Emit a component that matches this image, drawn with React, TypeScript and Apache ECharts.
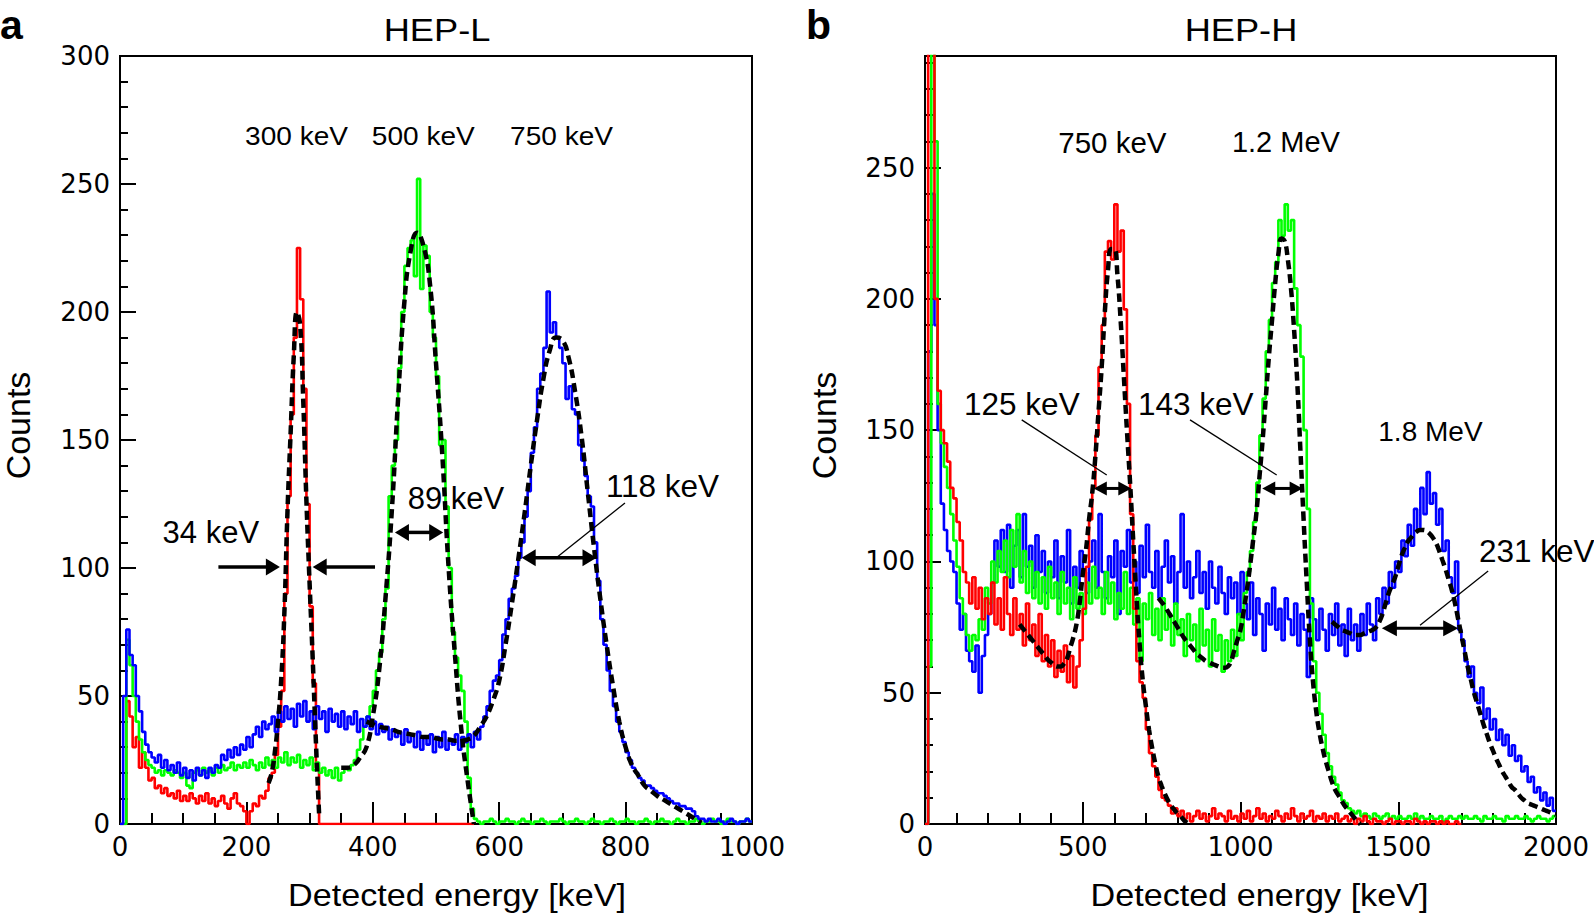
import React, { useEffect, useRef } from "react";
import * as echarts from "echarts";

const FONT = "'Liberation Sans', Arial, Helvetica, sans-serif";
const TICK_FONT = "'DejaVu Sans', 'Liberation Sans', Arial, sans-serif";
const RED = "#ff0000";
const GREEN = "#00ff00";
const BLUE = "#0000ff";

// ---------- Panel a (HEP-L): 5 keV bins starting at 0 keV ----------
const BIN_A = 5;
const redA = [
  0, 0, 48, 42, 30, 34, 22, 28, 22, 17, 18, 14, 15, 12, 14, 11, 12, 10, 13, 9,
  11, 9, 12, 10, 8, 11, 9, 12, 8, 10, 7, 9, 11, 8, 6, 10, 12, 8, 7, 5,
  0, 5, 8, 7, 11, 10, 13, 18, 20, 27, 38, 52, 90, 128, 160, 190, 225, 205, 170, 125,
  85, 55, 22, 0, 0, 0, 0, 0, 0, 0, 0, 0, 0, 0, 0, 0, 0, 0, 0, 0,
  0, 0, 0, 0, 0, 0, 0, 0, 0, 0, 0, 0, 0, 0, 0, 0, 0, 0, 0, 0,
  0, 0, 0, 0, 0, 0, 0, 0, 0, 0, 0, 0,
];
const greenA = [
  0, 0, 72, 62, 50, 40, 33, 28, 25, 23, 22, 20, 21, 19, 21, 20, 19, 21, 20, 18,
  20, 15, 14, 20, 21, 19, 22, 20, 21, 19, 22, 20, 23, 21, 22, 24, 21, 23, 22, 24,
  22, 25, 23, 21, 24, 22, 26, 23, 25, 22, 26, 24, 28, 23, 26, 24, 27, 22, 25, 23,
  26, 21, 24, 20, 22, 19, 21, 18, 22, 17, 20, 22, 21, 23, 25, 29, 33, 38, 42, 46,
  52, 60, 67, 80, 92, 128, 140, 150, 178, 200, 218, 225, 228, 214, 252, 209, 226, 222, 200, 190,
  175, 148, 150, 124, 100, 75, 65, 58, 52, 40, 18, 6, 2, 1, 0, 1, 1, 2, 1, 0,
  1, 1, 2, 1, 1, 0, 1, 2, 1, 1, 0, 1, 1, 2, 1, 0, 1, 1, 1, 2,
  1, 0, 1, 1, 2, 1, 1, 0, 1, 2, 1, 1, 0, 1, 1, 2, 1, 0, 1, 1,
  2, 1, 1, 0, 1, 1, 2, 1, 0, 1, 1, 2, 1, 1, 0, 1, 2, 1, 1, 0,
  1, 1, 2, 1, 0, 1, 1, 2, 1, 1, 0, 1, 2, 1, 1, 0, 1, 1, 2, 1,
];
const blueA = [
  0, 50, 76, 66, 62, 50, 44, 36, 31, 28, 26, 24, 27, 22, 25, 21, 23, 20, 24, 19,
  22, 18, 21, 17, 22, 19, 21, 18, 22, 20, 23, 22, 27, 25, 29, 26, 30, 27, 31, 29,
  34, 30, 35, 38, 34, 40, 37, 39, 42, 36, 44, 40, 46, 41, 45, 38, 47, 42, 48, 40,
  44, 37, 46, 41, 44, 36, 45, 40, 43, 38, 44, 37, 42, 39, 44, 36, 41, 38, 42, 37,
  40, 35, 39, 36, 38, 33, 37, 34, 36, 31, 37, 32, 35, 30, 36, 29, 34, 31, 35, 28,
  34, 30, 36, 29, 33, 31, 35, 29, 34, 32, 35, 30, 36, 33, 38, 42, 46, 52, 56, 58,
  64, 74, 80, 88, 92, 97, 104, 110, 120, 130, 145, 155, 170, 176, 186, 208, 192, 196, 190, 186,
  180, 166, 171, 162, 160, 148, 142, 136, 128, 124, 110, 95, 80, 70, 60, 52, 46, 40, 36, 32,
  28, 25, 22, 20, 18, 17, 15, 15, 14, 13, 12, 12, 11, 10, 9, 8, 8, 7, 7, 6,
  6, 5, 3, 2, 2, 1, 2, 1, 1, 2, 1, 0, 1, 2, 1, 0, 1, 1, 2, 1,
];
// fitted curves (panel a)
const fitRedAStart = 235, fitRedAStep = 5;
const fitRedA = [16, 20, 28, 40, 56, 82, 122, 153, 183, 200, 195, 165, 126, 94, 64, 32, 4];
const fitGreenAStart = 350, fitGreenAStep = 10;
const fitGreenA = [22, 22, 23, 26, 30, 42, 60, 88, 122, 166, 204, 224, 231, 226, 212, 180, 144, 100, 66, 37, 17, 0];
const fitBlueAStart = 390, fitBlueAStep = 10;
const fitBlueA = [
  40, 39, 38, 37.5, 37, 36, 35.5, 35, 34.5, 34, 34, 33.5, 33, 33, 32.5, 32.5, 33, 34.5, 38, 42,
  48, 56, 70, 86, 103, 121, 140, 158, 174, 185, 190, 189, 182, 169, 152, 130, 108, 88, 70, 54,
  40, 30, 23, 19, 15, 13, 11, 9.5, 8, 6.5, 5, 3.5, 2, 0.5,
];

// ---------- Panel b (HEP-H): 10 keV bins starting at 0 keV ----------
const BIN_B = 10;
const redB = [
  0, 300, 320, 200, 165, 150, 145, 138, 128, 124,
  115, 108, 96, 92, 84, 94, 82, 90, 78, 86,
  80, 92, 76, 86, 74, 94, 80, 72, 86, 74,
  80, 68, 84, 70, 76, 64, 80, 62, 72, 60,
  70, 56, 66, 58, 68, 54, 64, 52, 60, 70,
  82, 98, 116, 128, 148, 174, 190, 218, 222, 215,
  236, 218, 226, 196, 160, 118, 82, 62, 54, 48,
  36, 27, 22, 18, 13, 10, 9, 7, 4, 6,
  3, 5, 2, 4, 1, 3, 5, 2, 4, 1,
  3, 6, 2, 4, 3, 1, 5, 2, 3, 1,
  4, 2, 5, 1, 3, 6, 2, 4, 1, 3,
  2, 5, 3, 1, 4, 2, 6, 3, 1, 4,
  2, 3, 5, 1, 3, 2, 4, 1, 3, 2,
  4, 1, 2, 3, 1, 2, 0, 2, 1, 3,
  1, 0, 2, 1, 1, 0, 1, 2, 0, 1,
  1, 0, 1, 1, 0, 2, 1, 0, 1, 0,
  1, 1, 0, 1, 0, 1, 0, 0, 1, 0,
];
const greenB = [
  0, 60, 330, 260, 160, 145, 136, 128, 118, 108,
  98, 86, 80, 72, 66, 72, 70, 78, 74, 90,
  84, 100, 92, 104, 96, 108, 94, 112, 98, 118,
  92, 104, 88, 100, 86, 96, 84, 94, 82, 98,
  86, 92, 80, 96, 84, 90, 78, 94, 82, 88,
  80, 92, 84, 98, 86, 90, 80, 96, 84, 92,
  78, 88, 82, 96, 80, 90, 76, 86, 62, 84,
  78, 88, 72, 82, 70, 86, 74, 80, 68, 84,
  72, 78, 64, 80, 70, 76, 62, 82, 68, 74,
  60, 78, 66, 72, 58, 70, 62, 74, 64, 80,
  70, 88, 96, 104, 115, 130, 148, 162, 180, 192,
  206, 214, 230, 224, 236, 226, 230, 204, 190, 178,
  150, 120, 84, 62, 50, 42, 34, 27, 22, 18,
  15, 12, 9, 8, 6, 5, 4, 5, 3, 4,
  3, 2, 4, 3, 2, 3, 4, 2, 3, 2,
  3, 2, 2, 3, 2, 4, 2, 3, 2, 2,
  3, 2, 2, 3, 1, 2, 3, 2, 2, 3,
  2, 3, 2, 2, 3, 2, 1, 3, 2, 2,
  3, 2, 2, 1, 3, 2, 2, 3, 2, 2,
  3, 2, 1, 2, 3, 2, 2, 1, 2, 3,
];
const blueB = [
  0, 180, 240, 190, 150, 122, 112, 104, 100, 96,
  84, 74, 80, 66, 62, 58, 68, 50, 64, 72,
  80, 92, 108, 98, 112, 96, 114, 90, 106, 112,
  94, 118, 98, 106, 90, 110, 96, 104, 88, 100,
  94, 108, 86, 102, 92, 112, 84, 98, 90, 104,
  96, 88, 100, 108, 90, 118, 96, 86, 102, 94,
  108, 80, 104, 98, 112, 92, 100, 88, 106, 94,
  114, 96, 90, 104, 86, 98, 108, 92, 102, 84,
  96, 118, 90, 100, 86, 94, 104, 88, 96, 82,
  100, 90, 84, 98, 88, 80, 94, 86, 92, 80,
  96, 84, 78, 92, 72, 86, 80, 66, 84, 76,
  90, 74, 82, 70, 86, 78, 72, 84, 68, 80,
  74, 56, 86, 78, 70, 82, 74, 66, 80, 72,
  84, 68, 76, 64, 82, 70, 76, 66, 80, 72,
  84, 76, 70, 86, 80, 90, 84, 96, 90, 100,
  96, 108, 102, 114, 106, 120, 112, 128, 118, 134,
  122, 126, 114, 120, 104, 108, 94, 88, 100, 74,
  70, 62, 56, 60, 50, 46, 52, 40, 44, 36,
  40, 32, 36, 30, 34, 26, 30, 24, 26, 20,
  22, 16, 18, 12, 14, 9, 12, 7, 10, 5,
];
// fitted curves (panel b)
const fitRedBStart = 300, fitRedBStep = 10;
const fitRedB = [
  76, 74.5, 73, 71.5, 70, 68.5, 67, 65.5, 64, 62.5,
  61.5, 60.5, 60, 60, 61, 63, 67, 71, 76, 84,
  95, 104, 116, 126, 140, 157, 174, 195, 211, 219,
  219, 209, 192, 171, 150, 130, 108, 87, 69, 55,
  45, 36, 29, 23, 18, 14.5, 11.5, 9, 7, 5.5,
  4, 3, 1.5, 0.5, 0,
];
const fitGreenBStart = 740, fitGreenBStep = 10;
const fitGreenB = [
  86, 84.5, 83, 81, 79, 77,
  75, 73, 71, 69.5, 68, 66.5, 65, 64, 63, 62,
  61.5, 61, 60.5, 60, 59.5, 59.5, 60, 62, 66, 70,
  74, 81, 89, 98, 108, 118, 132, 146, 162, 178,
  192, 206, 217, 223, 222, 215, 204, 188, 168, 142,
  116, 92, 70, 54, 43, 35, 29, 24, 20, 16,
  13, 11, 9, 7, 5.5, 4, 2.5, 1, 0,
];
const fitBlueBStart = 1290, fitBlueBStep = 10;
const fitBlueB = [
  77,
  76, 75, 74, 73.5, 73, 72.5, 72, 72, 72, 72.5,
  73, 73.5, 74, 75, 77, 80, 84, 88, 91, 94,
  98, 102, 105, 107.5, 109, 110.5, 111.5, 112, 112, 111.5,
  110.5, 109, 107, 104, 100.5, 97, 93, 89, 84, 78,
  72, 66, 60, 55, 50, 46, 42, 38, 34.5, 31,
  28, 25, 22.5, 20, 18, 16, 14, 13, 11.5, 10,
  9, 8, 7.5, 7, 6.5, 6, 5.5, 5, 4.5, 4,
  3.5,
];

// ---------- Annotations (data coordinates) ----------
type Arrow = { from: [number, number]; to: [number, number]; both: boolean };
const arrowsA: Arrow[] = [
  { from: [155.7, 100.4], to: [253, 100.4], both: false },
  { from: [403.5, 100.4], to: [304.9, 100.4], both: false },
  { from: [435, 113.9], to: [511.4, 113.9], both: true },
  { from: [635.6, 104], to: [754, 104], both: true },
];
const leadersA: [number, number][][] = [[[799, 125.4], [689.9, 103.9]]];
const labelsA = [
  { text: "300 keV", at: [279.3, 268.4], size: 25.5, sx: 1.1 },
  { text: "500 keV", at: [479.9, 268.4], size: 25.5, sx: 1.1 },
  { text: "750 keV", at: [698.7, 268.4], size: 25.5, sx: 1.1 },
  { text: "34 keV", at: [143.7, 114], size: 31, sx: 1 },
  { text: "89 keV", at: [531.6, 127], size: 31, sx: 1 },
  { text: "118 keV", at: [858.4, 132.2], size: 31.5, sx: 1 },
];
const arrowsB: Arrow[] = [
  { from: [535, 127.8], to: [654, 127.8], both: true },
  { from: [1069, 127.8], to: [1197, 127.8], both: true },
  { from: [1448, 74.6], to: [1690, 74.6], both: true },
];
const leadersB: [number, number][][] = [
  [[306.5, 153.9], [576, 132.9]],
  [[840, 153.9], [1114.7, 132.9]],
  [[1785, 96.4], [1569, 75.7]],
];
const labelsB = [
  { text: "750 keV", at: [594, 259.6], size: 29.5, align: "center" },
  { text: "1.2 MeV", at: [1144, 259.6], size: 29, align: "center" },
  { text: "1.8 MeV", at: [1602, 149.3], size: 28, align: "center" },
  { text: "125 keV", at: [307, 160], size: 31.5, align: "center" },
  { text: "143 keV", at: [858, 160], size: 31.5, align: "center" },
  { text: "231 keV", at: [1756, 103.8], size: 31.5, align: "left" },
];

function hist(values: number[], bin: number) {
  const pts = values.map((v, i) => [i * bin, v]);
  pts.push([values.length * bin, values[values.length - 1]]);
  return pts;
}
function curve(start: number, step: number, values: number[]) {
  return values.map((v, i) => [start + i * step, v]);
}

function histSeries(data: number[][], color: string, gi: number) {
  return {
    type: "line",
    xAxisIndex: gi,
    yAxisIndex: gi,
    data,
    step: "end",
    symbol: "none",
    showSymbol: false,
    silent: true,
    clip: true,
    lineStyle: { color, width: 2.6 },
    itemStyle: { color },
    emphasis: { disabled: true },
    z: 2,
  };
}
function fitSeries(data: number[][], gi: number) {
  return {
    type: "line",
    xAxisIndex: gi,
    yAxisIndex: gi,
    data,
    smooth: 0.5,
    symbol: "none",
    showSymbol: false,
    silent: true,
    clip: true,
    lineStyle: { color: "#000", width: 4.5, type: [9, 5] },
    itemStyle: { color: "#000" },
    emphasis: { disabled: true },
    z: 3,
  };
}

const tickStyle = { color: "#000", width: 2 };
const plain = (v: number) => String(v);
function xAxis(gi: number, max: number, interval: number, minorSplit: number) {
  return {
    gridIndex: gi,
    type: "value",
    min: 0,
    max,
    interval,
    axisLine: { show: true, onZero: false, lineStyle: { color: "#000", width: 2 } },
    axisTick: { show: true, inside: true, length: 22, lineStyle: tickStyle },
    minorTick: { show: true, splitNumber: minorSplit, length: 11, lineStyle: tickStyle },
    axisLabel: { color: "#000", fontSize: 26, fontFamily: TICK_FONT, margin: 10, formatter: plain },
    splitLine: { show: false },
    minorSplitLine: { show: false },
  };
}
function yAxis(gi: number, max: number, minor: boolean) {
  return {
    gridIndex: gi,
    type: "value",
    position: "left",
    min: 0,
    max,
    interval: 50,
    axisLine: { show: true, onZero: false, lineStyle: { color: "#000", width: 2 } },
    axisTick: { show: true, inside: true, length: 16, lineStyle: tickStyle },
    minorTick: { show: minor, splitNumber: 5, length: 8, lineStyle: tickStyle },
    axisLabel: {
      color: "#000",
      fontSize: 26,
      fontFamily: TICK_FONT,
      margin: 10,
      showMaxLabel: minor,
      formatter: (v: number) => (v % 50 === 0 ? String(v) : ""),
    },
    splitLine: { show: false },
    minorSplitLine: { show: false },
  };
}

const Y_MAX_B = 292.5;

function buildOption() {
  return {
    animation: false,
    backgroundColor: "#ffffff",
    grid: [
      { left: 120, top: 56, width: 632, height: 768, show: true, borderColor: "#000", borderWidth: 2, backgroundColor: "transparent" },
      { left: 925, top: 56, width: 631, height: 768, show: true, borderColor: "#000", borderWidth: 2, backgroundColor: "transparent" },
    ],
    xAxis: [xAxis(0, 1000, 200, 4), xAxis(1, 2000, 500, 5)],
    yAxis: [
      yAxis(0, 300, true),
      yAxis(1, Y_MAX_B, false),
      {
        gridIndex: 1,
        type: "value",
        position: "left",
        min: 0,
        max: Y_MAX_B,
        interval: 10,
        axisLine: { show: false },
        axisTick: { show: true, inside: true, length: 8, lineStyle: tickStyle },
        axisLabel: { show: false },
        splitLine: { show: false },
      },
    ],
    series: [
      histSeries(hist(redA, BIN_A), RED, 0),
      histSeries(hist(greenA, BIN_A), GREEN, 0),
      histSeries(hist(blueA, BIN_A), BLUE, 0),
      fitSeries(curve(fitRedAStart, fitRedAStep, fitRedA), 0),
      fitSeries(curve(fitGreenAStart, fitGreenAStep, fitGreenA), 0),
      fitSeries(curve(fitBlueAStart, fitBlueAStep, fitBlueA), 0),
      histSeries(hist(blueB, BIN_B), BLUE, 1),
      histSeries(hist(greenB, BIN_B), GREEN, 1),
      histSeries(hist(redB, BIN_B), RED, 1),
      fitSeries(curve(fitRedBStart, fitRedBStep, fitRedB), 1),
      fitSeries(curve(fitGreenBStart, fitGreenBStep, fitGreenB), 1),
      fitSeries(curve(fitBlueBStart, fitBlueBStep, fitBlueB), 1),
    ],
  };
}

function textEl(t: string, x: number, y: number, size: number, opts: any = {}) {
  const align = opts.align || "center";
  return {
    type: "text",
    x,
    y,
    rotation: opts.rotation || 0,
    scaleX: opts.scaleX || 1,
    z: 100,
    silent: true,
    style: {
      text: t,
      fill: "#000",
      fontSize: size,
      fontFamily: FONT,
      fontWeight: opts.bold ? "bold" : "normal",
      align,
      verticalAlign: "middle",
      textAlign: align,
      textVerticalAlign: "middle",
    },
  };
}

function arrowEls(p0: number[], p1: number[], both: boolean, L: number, W: number, lw: number) {
  const dx = p1[0] - p0[0];
  const dy = p1[1] - p0[1];
  const len = Math.hypot(dx, dy) || 1;
  const ux = dx / len, uy = dy / len;
  const nx = -uy, ny = ux;
  const head = (tip: number[], sx: number, sy: number) => {
    const bx = tip[0] - sx * L, by = tip[1] - sy * L;
    return {
      type: "polygon",
      z: 100,
      silent: true,
      shape: { points: [[tip[0], tip[1]], [bx + nx * W, by + ny * W], [bx - nx * W, by - ny * W]] },
      style: { fill: "#000", stroke: "none" },
    };
  };
  const start = both ? [p0[0] + ux * L * 0.7, p0[1] + uy * L * 0.7] : p0;
  const end = [p1[0] - ux * L * 0.7, p1[1] - uy * L * 0.7];
  const els: any[] = [
    {
      type: "line",
      z: 100,
      silent: true,
      shape: { x1: start[0], y1: start[1], x2: end[0], y2: end[1] },
      style: { stroke: "#000", lineWidth: lw },
    },
    head(p1, ux, uy),
  ];
  if (both) els.push(head(p0, -ux, -uy));
  return els;
}

function buildGraphics(chart: any) {
  const px = (gi: number, p: number[]) =>
    chart.convertToPixel(gi === 0 ? { xAxisIndex: 0, yAxisIndex: 0 } : { xAxisIndex: 1, yAxisIndex: 1 }, p) as number[];
  const els: any[] = [];
  // panel letters and titles
  els.push(textEl("a", 0, 24.5, 41, { bold: true, align: "left" }));
  els.push(textEl("b", 806, 24.5, 41, { bold: true, align: "left" }));
  els.push(textEl("HEP-L", 437, 29.5, 31.5, { scaleX: 1.15 }));
  els.push(textEl("HEP-H", 1241, 29.5, 31.5, { scaleX: 1.15 }));
  // axis titles
  els.push(textEl("Counts", 18, 425.5, 34, { rotation: Math.PI / 2 }));
  els.push(textEl("Counts", 823.5, 425.5, 34, { rotation: Math.PI / 2 }));
  els.push(textEl("Detected energy [keV]", 457, 896, 30.5, { scaleX: 1.12 }));
  els.push(textEl("Detected energy [keV]", 1259.5, 896, 30.5, { scaleX: 1.12 }));
  // annotations panel a
  labelsA.forEach((l) => {
    const p = px(0, l.at);
    els.push(textEl(l.text, p[0], p[1], l.size, { scaleX: l.sx }));
  });
  arrowsA.forEach((a) => {
    els.push(...arrowEls(px(0, a.from), px(0, a.to), a.both, 14, 8.5, 3.5));
  });
  leadersA.forEach((ln) => {
    const p0 = px(0, ln[0]), p1 = px(0, ln[1]);
    els.push({ type: "line", z: 100, silent: true, shape: { x1: p0[0], y1: p0[1], x2: p1[0], y2: p1[1] }, style: { stroke: "#000", lineWidth: 1.3 } });
  });
  // annotations panel b
  labelsB.forEach((l) => {
    const p = px(1, l.at);
    els.push(textEl(l.text, p[0], p[1], l.size, { align: l.align }));
  });
  arrowsB.forEach((a, i) => {
    const big = i === 2;
    els.push(...arrowEls(px(1, a.from), px(1, a.to), a.both, big ? 15 : 13, big ? 8 : 7, 3));
  });
  leadersB.forEach((ln) => {
    const p0 = px(1, ln[0]), p1 = px(1, ln[1]);
    els.push({ type: "line", z: 100, silent: true, shape: { x1: p0[0], y1: p0[1], x2: p1[0], y2: p1[1] }, style: { stroke: "#000", lineWidth: 1.3 } });
  });
  return els;
}

export default function App() {
  const ref = useRef<HTMLDivElement>(null);
  useEffect(() => {
    document.body.style.margin = "0";
    if (!ref.current) return;
    const chart = echarts.init(ref.current, null, { renderer: "svg", width: 1594, height: 916 });
    chart.setOption(buildOption() as any);
    chart.setOption({ graphic: buildGraphics(chart) } as any);
    return () => chart.dispose();
  }, []);
  return <div ref={ref} style={{ width: 1594, height: 916, background: "#fff" }} />;
}
